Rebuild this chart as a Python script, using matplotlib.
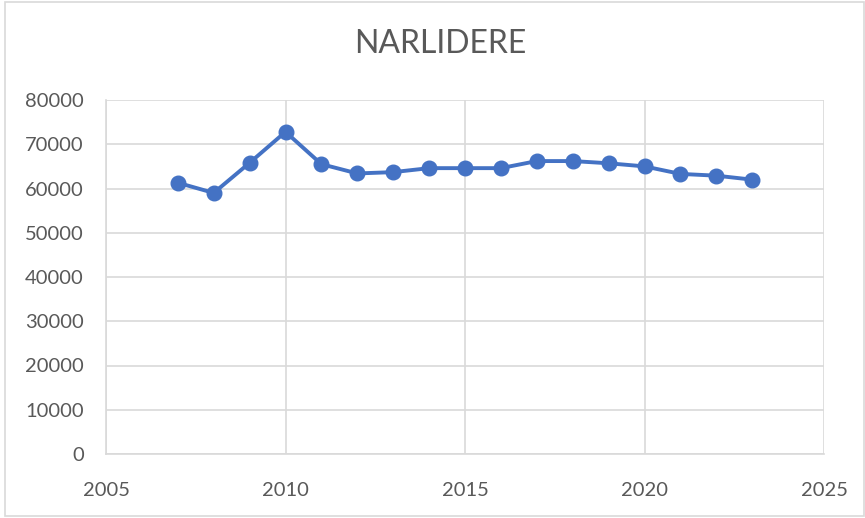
import matplotlib
matplotlib.use("Agg")
import matplotlib.pyplot as plt
from matplotlib.patches import Rectangle

years = [2007, 2008, 2009, 2010, 2011, 2012, 2013, 2014, 2015, 2016,
         2017, 2018, 2019, 2020, 2021, 2022, 2023]
values = [61300, 59000, 65800, 72800, 65500, 63400, 63700, 64600, 64600, 64600,
          66200, 66200, 65700, 65000, 63300, 62900, 62000]
x_ticks = [2005, 2010, 2015, 2020, 2025]
y_ticks = [0, 10000, 20000, 30000, 40000, 50000, 60000, 70000, 80000]
title = "NARLIDERE"

plt.rcParams['font.family'] = ['Lato', 'DejaVu Sans']

fig = plt.figure(figsize=(8.65, 5.18), dpi=100)
fig.patches.append(Rectangle((5/865, 2/518), 859/865, 514/518, transform=fig.transFigure,
                             fill=False, edgecolor='#D9D9D9', linewidth=1.2))
ax = fig.add_axes([106/865, 1-454/518, (824-106)/865, (454-100)/518])

ax.plot(years, values, color='#4472C4', linewidth=2.8, marker='o', markersize=10.5,
        zorder=3, clip_on=False)

ax.set_xlim(2005, 2025)
ax.set_ylim(0, 80000)
ax.set_xticks(x_ticks)
ax.set_yticks(y_ticks)
ax.grid(True, color='#D9D9D9', linewidth=1.2)
ax.set_axisbelow(True)
for s in ax.spines.values():
    s.set_visible(False)
for side in ('left', 'bottom'):
    ax.spines[side].set_visible(True)
    ax.spines[side].set_color('#D9D9D9')
    ax.spines[side].set_linewidth(1.2)
ax.tick_params(axis='both', length=0, labelsize=14.5, labelcolor='#595959')
ax.tick_params(axis='y', pad=16)
ax.tick_params(axis='x', pad=20)

fig.text(440/865, 1-44/518, title, ha='center', va='center',
         fontsize=23, color='#595959')

fig.savefig('out.png', dpi=100)
